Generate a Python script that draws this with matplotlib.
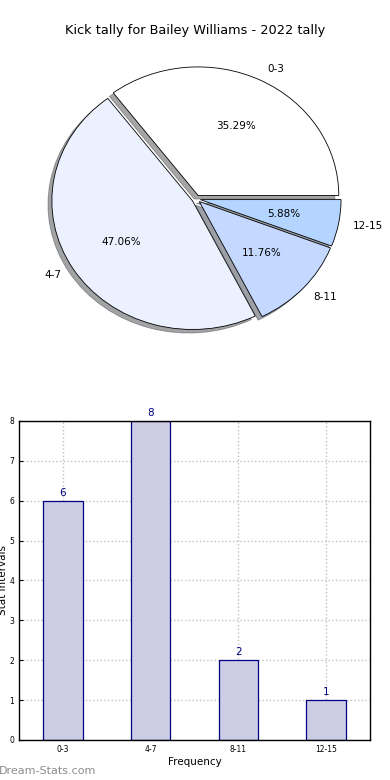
import matplotlib
matplotlib.use('Agg')
from matplotlib import pyplot as plt

# data
labels = ['0-3', '4-7', '8-11', '12-15']
counts = [6, 8, 2, 1]
pie_colors = ['#ffffff', '#ebf1ff', '#c5d8ff', '#b3d5ff']
title = 'Kick tally for Bailey Williams - 2022 tally'

fig = plt.figure(figsize=(3.9, 7.8), dpi=100)

# pie chart (old style, not equal aspect)
ax1 = fig.add_axes([0.052, 0.539, 0.902, 0.412])
wedges, texts, autotexts = ax1.pie(counts, labels=labels, colors=pie_colors,
                                   explode=[0.03] * len(counts), shadow=True,
                                   autopct='%.2f%%', startangle=0,
                                   wedgeprops={'edgecolor': 'black', 'linewidth': 0.6},
                                   textprops={'fontsize': 7.5})
ax1.set_aspect('auto')
ax1.set_xlim(-1.25, 1.25)
ax1.set_ylim(-1.25, 1.25)
fig.text(0.5, 0.961, title, ha='center', va='center', fontsize=9.3)

# bar chart
ax2 = fig.add_axes([0.0487, 0.0513, 0.9, 0.409])
x = range(len(labels))
bars = ax2.bar(x, counts, width=0.45, color='#cdcde6', edgecolor='#000080', linewidth=0.9, zorder=2)
for xi, c in zip(x, counts):
    ax2.text(xi, c + 0.08, str(c), ha='center', va='bottom', color='#000080', fontsize=7.5)
ax2.set_xlim(-0.5, 3.5)
ax2.set_ylim(0, 8)
ax2.set_xticks(list(x))
ax2.set_xticklabels(labels)
ax2.tick_params(labelsize=5.5, direction='in', length=3)
ax2.grid(True, linestyle=':', color='#c0c0c0', linewidth=1, zorder=0)
ax2.set_axisbelow(True)
ax2.set_xlabel('Frequency', fontsize=7.5, labelpad=2)
ax2.set_ylabel('Stat Intervals', fontsize=7.5, labelpad=1)
for s in ax2.spines.values():
    s.set_linewidth(1)

fig.text(-0.003, 0.012, 'Dream-Stats.com', fontsize=8, color='#8c8c8c',
         ha='left', va='center')

plt.savefig('out.png', dpi=100)
